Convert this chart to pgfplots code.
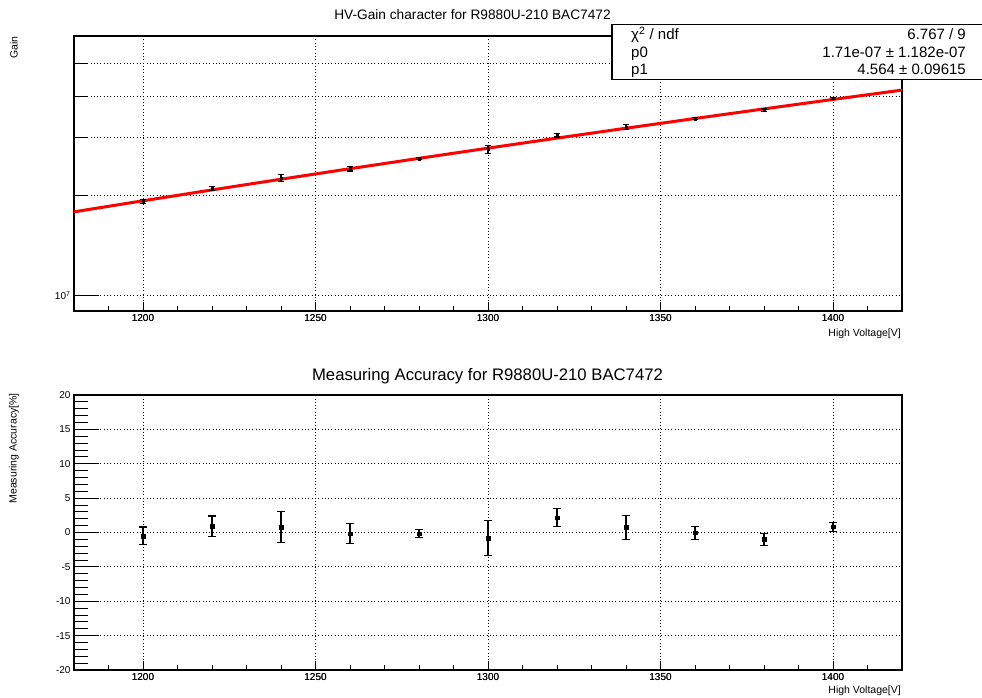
\documentclass[border=0pt]{standalone}
\usepackage{fontspec}
\setmainfont{Liberation Sans}
\usepackage{pgfplots}
\pgfplotsset{compat=1.18}

\newcommand\fs[1]{\fontsize{#1}{#1}\selectfont}

% common frame of both pads
\pgfplotsset{
  rootframe/.style={
    scale only axis, width=828pt, height=275pt,
    xmin=1180, xmax=1420,
    axis line style={line width=1.2pt},
    tick align=inside, xtick pos=bottom, ytick pos=left,
    tick style={black, line width=1pt},
    grid style={black, line width=0.9pt, dash pattern=on 0.9pt off 2.4pt},
    tick label style={font=\fs{10}},
    /pgf/number format/assume math mode=true,
    /pgf/number format/1000 sep={},
  },
  % y ticks and grid belong to the main axis
  mainaxis/.style={
    rootframe,
    xtick={1200,1250,...,1400},
    xtick style={draw=none},
    xmajorgrids,
    major tick length=25pt, minor tick length=13.5pt,
  },
  % short x ticks drawn on top of the same frame
  xtickaxis/.style={
    rootframe,
    axis line style={draw=none},
    ytick=\empty,
    xtick={1200,1250,...,1400},
    minor xtick={1190,1210,1220,1230,1240,1260,1270,1280,1290,1310,1320,1330,1340,1360,1370,1380,1390,1410},
    xticklabel={},
    major tick length=9pt, minor tick length=5pt,
  },
  errstyle/.style n args={3}{
    black, only marks, mark=square*, mark size=#1,
    error bars/.cd, y dir=both, y explicit,
    error bar style={line width=#2},
    error mark options={rotate=90, mark size=#3, line width=1.2pt},
  },
}

% fitted power law  G = p0 * V^p1
\pgfplotstableread{
v      g
1180   1.79087e7
1200   1.93365e7
1220   2.08518e7
1240   2.24582e7
1260   2.41596e7
1280   2.59598e7
1300   2.78633e7
1320   2.98742e7
1340   3.19966e7
1360   3.42348e7
1380   3.65935e7
1400   3.90773e7
1420   4.16906e7
}\fitcurve

% measured gain with errors
\pgfplotstableread{
v      g          e
1200   1.92398e7  2.51e5
1220   2.10395e7  3.13e5
1240   2.26379e7  5.17e5
1260   2.41234e7  3.50e5
1280   2.59157e7  1.45e5
1300   2.76265e7  7.11e5
1320   3.05165e7  3.97e5
1340   3.22302e7  5.44e5
1360   3.42177e7  3.15e5
1380   3.62385e7  3.18e5
1400   3.94095e7  2.54e5
}\gaindata

% deviation from the fit in percent
\pgfplotstableread{
v      a       e
1200   -0.50   1.30
1220    0.90   1.50
1240    0.80   2.30
1260   -0.15   1.45
1280   -0.17   0.56
1300   -0.85   2.55
1320    2.15   1.33
1340    0.73   1.70
1360   -0.05   0.92
1380   -0.97   0.87
1400    0.85   0.65
}\accdata

\begin{document}
\begin{tikzpicture}
\useasboundingbox (0,0) rectangle (982pt,697pt);

% ---------------- upper pad: gain vs high voltage ----------------
\begin{axis}[mainaxis, at={(74pt,386pt)}, anchor=south west,
  ymode=log, ymin=9e6, ymax=6.07e7,
  ytick={1e7}, yticklabels={10\textsuperscript{7}},
  minor ytick={2e7,3e7,4e7,5e7},
  ymajorgrids, yminorgrids,
  minor grid style={black, line width=0.9pt, dash pattern=on 0.9pt off 2.4pt},
]
\addplot[red, line width=3pt] table[x=v, y=g] {\fitcurve};
\addplot[errstyle={1.3pt}{1.5pt}{2.6pt}] table[x=v, y=g, y error=e] {\gaindata};
\end{axis}
\begin{axis}[xtickaxis, at={(74pt,386pt)}, anchor=south west,
  ymode=log, ymin=9e6, ymax=6.07e7]
\end{axis}

% ---------------- lower pad: measuring accuracy ----------------
\begin{axis}[mainaxis, at={(74pt,27pt)}, anchor=south west,
  ymin=-20, ymax=20,
  ytick={-20,-15,...,20}, minor y tick num=4,
  ymajorgrids,
]
\addplot[errstyle={1.8pt}{1.3pt}{4pt}] table[x=v, y=a, y error=e] {\accdata};
\end{axis}
\begin{axis}[xtickaxis, at={(74pt,27pt)}, anchor=south west,
  ymin=-20, ymax=20]
\end{axis}

% titles and axis labels
\node[font=\fs{13.7}, anchor=base] at (472.5pt,677.7pt) {HV-Gain character for R9880U-210 BAC7472};
\node[font=\fs{16.7}, anchor=base] at (487.5pt,317pt) {Measuring Accuracy for R9880U-210 BAC7472};
\node[font=\fs{10.5}, rotate=90, anchor=base east, inner sep=0pt] at (17.5pt,661pt) {Gain};
\node[font=\fs{10.5}, rotate=90, anchor=base east, inner sep=0pt] at (16.5pt,304pt) {Measuring Accuracy[\%]};
\node[font=\fs{10.5}, anchor=base east, inner sep=0pt] at (901pt,360.5pt) {High Voltage[V]};
\node[font=\fs{10.5}, anchor=base east, inner sep=0pt] at (901pt,3.5pt) {High Voltage[V]};

% fit statistics box
\draw[line width=1.2pt, fill=white] (612pt,672.7pt) rectangle (1000pt,617.7pt);
\begin{scope}[every node/.style={font=\fs{15}, inner sep=0pt}]
\node[anchor=base west] at (631pt,657.7pt) {χ\textsuperscript{2} / ndf};
\node[anchor=base east] at (966pt,657.7pt) {6.767 / 9};
\node[anchor=base west] at (631pt,639.7pt) {p0};
\node[anchor=base east] at (966pt,639.7pt) {1.71e-07 ± 1.182e-07};
\node[anchor=base west] at (631pt,622pt) {p1};
\node[anchor=base east] at (966pt,622pt) {4.564 ± 0.09615};
\end{scope}
\end{tikzpicture}
\end{document}
